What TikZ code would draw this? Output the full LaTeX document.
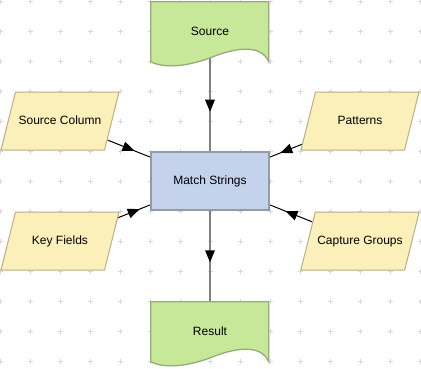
\documentclass[tikz,border=0pt]{standalone}
\usepackage{fontspec}
\setmainfont{Liberation Sans}
\usetikzlibrary{shapes.geometric,decorations.markings}
\pgfdeclarelayer{bg}
\pgfdeclarelayer{mid}
\pgfsetlayers{bg,mid,main}
\definecolor{yfill}{RGB}{251,240,186}
\definecolor{ydraw}{RGB}{185,174,133}
\definecolor{gfill}{RGB}{199,232,153}
\definecolor{gdraw}{RGB}{150,172,118}
\definecolor{bfill}{RGB}{196,210,236}
\definecolor{bdraw}{RGB}{147,155,168}
\definecolor{gridc}{RGB}{217,217,217}
\definecolor{vline}{RGB}{128,128,128}
\tikzset{
  lbl/.style={font=\fontsize{12pt}{14pt}\selectfont, text=black},
  para/.style={lbl, trapezium, trapezium left angle=76, trapezium right angle=104,
    trapezium stretches body, minimum width=118pt, text height=9pt, text depth=3pt,
    inner ysep=23pt, inner xsep=2pt,
    draw=ydraw, fill=yfill, line width=1pt},
  procbox/.style={lbl, rectangle, minimum width=118pt, minimum height=58pt,
    draw=bdraw, fill=bfill, line width=1.5pt},
  docnode/.style={lbl, rectangle, minimum width=118pt, minimum height=58pt, inner sep=0pt},
  docshape/.style={draw=gdraw, fill=gfill, line width=1.3pt},
  midarrow/.style={postaction={decorate}, decoration={markings,
    mark=at position 0.5 with {\fill[black] (6pt,0pt) -- (-6pt,5pt) -- (-6pt,-5pt) -- cycle;}}},
  dconn/.style={draw=black, line width=1pt, midarrow},
  vconn/.style={draw=vline, line width=2pt, midarrow},
  gridmark/.style={draw=gridc, line width=1pt}
}
\begin{document}
\begin{tikzpicture}[x=1pt,y=-1pt]
\useasboundingbox (0,0) rectangle (421,368);
% nodes
\node[procbox] (ms) at (210,181) {Match Strings};
\node[para] (sc) at (60,121) {Source Column};
\node[para] (kf) at (60,241) {Key Fields};
\node[para] (pt) at (360,121) {Patterns};
\node[para] (cg) at (360,241) {Capture Groups};
\node[docnode] (src) at (210,31) {Source};
\node[docnode] (res) at (210,331) {Result};
% document shapes
\begin{pgfonlayer}{mid}
\foreach \n in {src,res}{
  \path[docshape, shift={(\n.north west)}] (0,0) -- (118,0) -- (118,60)
    .. controls (110,42) and (85,46) .. (62,55)
    .. controls (42,63) and (16,68) .. (0,60) -- cycle;
}
\end{pgfonlayer}
% background grid and connectors
\begin{pgfonlayer}{bg}
\fill[white] (0,0) rectangle (421,368);
\foreach \gx in {0,30,...,420}{
  \foreach \gy in {1.5,31.5,...,361.5}{
    \draw[gridmark] (\gx-2.5,\gy) -- (\gx+2.5,\gy) (\gx,\gy-2.5) -- (\gx,\gy+2.5);
  }
}
\draw[vconn, shorten <=-5pt] (src) -- (ms);
\draw[vconn] (ms) -- (res);
\draw[dconn] (sc) -- (ms);
\draw[dconn] (kf) -- (ms);
\draw[dconn] (pt) -- (ms);
\draw[dconn] (cg) -- (ms);
\end{pgfonlayer}
\end{tikzpicture}
\end{document}
